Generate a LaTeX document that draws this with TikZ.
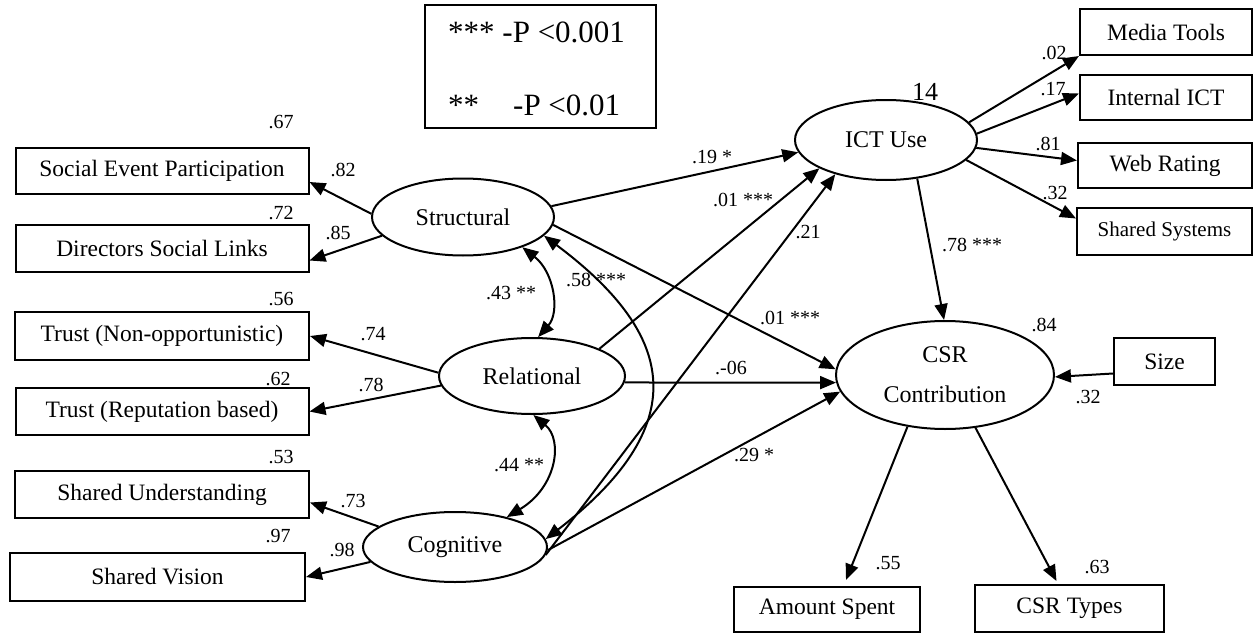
\documentclass[tikz,border=0pt]{standalone}
\usepackage{fontspec}
\setmainfont{Liberation Serif}
\usetikzlibrary{shapes.geometric,arrows.meta,calc}
\begin{document}
\begin{tikzpicture}[x=1pt,y=-1pt,
  box/.style={draw,line width=2pt,rectangle,inner sep=0pt,font=\fontsize{23.5}{28}\selectfont},
  lat/.style={draw,line width=2pt,ellipse,inner sep=0pt,font=\fontsize{24}{28}\selectfont},
  lab/.style={inner sep=0pt,font=\fontsize{20}{24}\selectfont},
  arr/.style={line width=2pt,-{Triangle[length=16pt,width=13pt]}},
  cov/.style={line width=2pt,{Triangle[length=16pt,width=13pt]}-{Triangle[length=16pt,width=13pt]}},
  legtext/.style={anchor=base west,inner sep=0pt,font=\fontsize{31}{36}\selectfont}
]
\useasboundingbox (0,0) rectangle (1256,634);

% left indicator boxes
\node[box,minimum width=293pt,minimum height=46pt] (sep) at (162,171) {Social Event Participation};
\node[box,minimum width=293pt,minimum height=47pt] (dsl) at (162,248.5) {Directors Social Links};
\node[box,minimum width=294pt,minimum height=48pt] (tno) at (162,336) {Trust (Non-opportunistic)};
\node[box,minimum width=293pt,minimum height=47pt] (trb) at (162,411.5) {Trust (Reputation based)};
\node[box,minimum width=294pt,minimum height=47pt] (su) at (162,494.5) {Shared Understanding};
\node[box,minimum width=295pt,minimum height=48pt] (sv) at (157.5,577) {Shared Vision};

% latent variables
\node[lat,minimum width=182pt,minimum height=77pt] (struct) at (463,217) {Structural};
\node[lat,minimum width=186pt,minimum height=76pt] (rel) at (532,376) {Relational};
\node[lat,minimum width=184pt,minimum height=70pt] (cog) at (455,547) {Cognitive};
\node[lat,minimum width=182pt,minimum height=80pt] (ict) at (886,140) {ICT Use};
\node[lat,minimum width=218pt,minimum height=108pt,align=center,font=\fontsize{24}{40}\selectfont] (csr) at (945,375) {CSR\\Contribution};

% right boxes
\node[box,minimum width=172pt,minimum height=46pt] (media) at (1166,32) {Media Tools};
\node[box,minimum width=172pt,minimum height=45pt] (iict) at (1166,97.5) {Internal ICT};
\node[box,minimum width=174pt,minimum height=45pt] (web) at (1165,165.5) {Web Rating};
\node[box,minimum width=175pt,minimum height=47pt,font=\fontsize{21}{25}\selectfont] (ss) at (1164.5,231.5) {Shared Systems};
\node[box,minimum width=101pt,minimum height=47pt] (size) at (1164.5,361.5) {Size};
\node[box,minimum width=186pt,minimum height=45pt] (amt) at (827,609.5) {Amount Spent};
\node[box,minimum width=189pt,minimum height=47pt] (types) at (1069.5,608.5) {CSR Types};

% legend
\node[draw,line width=1.2pt,minimum width=231pt,minimum height=123pt,inner sep=0pt] (legend) at (540.5,66.5) {};
\node[legtext] (leg1) at (448,43) {*** -P <0.001};
\node[legtext] (leg2) at (448,115) {**\hspace{34pt}-P <0.01};

% measurement arrows (left)
\draw[arr] (struct.178) -- ($(sep.east)+(0,11)$);
\draw[arr] (struct.193) -- ($(dsl.east)+(0,12)$);
\draw[arr] (rel.178) -- (tno.east);
\draw[arr] (rel.186) -- (trb.east);
\draw[arr] (cog.165) -- ($(su.east)+(0,8)$);
\draw[arr] (cog.190) -- (sv.east);

% structural paths
\draw[arr] (struct.7) -- (ict.188);
\draw[arr] (rel.22) -- (ict.203);
\draw[arr] (cog.-5) -- (ict.214);
\draw[arr] (struct.-5) -- (csr.177);
\draw[arr] (rel.-4) -- (csr.184);
\draw[arr] (cog.-2) -- (csr.189);
\draw[arr] (ict.-51) -- (csr.91);

% ICT indicators
\draw[arr] (ict.12) -- (media.south west);
\draw[arr] (ict.4) -- ($(iict.west)+(0,-4)$);
\draw[arr] (ict.-5) -- ($(web.west)+(0,-5)$);
\draw[arr] (ict.-14) -- ($(ss.west)+(0,-13)$);

% CSR
\draw[arr] ($(size.west)+(0,12)$) -- (csr.-1);
\draw[arr] (csr.234) -- ($(amt.north)+(19,-6)$);
\draw[arr] (csr.-60) -- ($(types.north)+(-13,-3)$);

% covariances
\draw[cov] (struct.-27) .. controls +(32,25) and +(22,-25) .. (rel.81);
\draw[cov] (rel.-88) .. controls +(30,25) and +(50,-30) .. (cog.30);
\draw[cov] (struct.-13) .. controls (670,330) and (700,420) .. (cog.5);

% labels
\node[lab] (l67) at (281,122) {.67};
\node[lab] (l72) at (281,213) {.72};
\node[lab] (l56) at (281,299) {.56};
\node[lab] (l62) at (278,379) {.62};
\node[lab] (l53) at (281,457) {.53};
\node[lab] (l97) at (278,536) {.97};
\node[lab] (l82) at (343,170) {.82};
\node[lab] (l85) at (338,233) {.85};
\node[lab] (l74) at (373,334) {.74};
\node[lab] (l78) at (371,385) {.78};
\node[lab] (l73) at (353,501) {.73};
\node[lab] (l98) at (342,550) {.98};
\node[lab] (l43) at (511,293) {.43 **};
\node[lab] (l44) at (519,465) {.44 **};
\node[lab] (l58) at (596,280) {.58 ***};
\node[lab] (l19) at (712,157) {.19 *};
\node[lab] (l01a) at (743,200) {.01 ***};
\node[lab] (l21) at (808,232) {.21};
\node[lab] (l01b) at (790,318) {.01 ***};
\node[lab] (l06) at (731,368) {.-06};
\node[lab] (l29) at (754,455) {.29 *};
\node[lab] (l78b) at (972,245) {.78 ***};
\node[lab] (l84) at (1044,325) {.84};
\node[lab] (l32b) at (1088,397) {.32};
\node[lab] (l55) at (888,563) {.55};
\node[lab] (l63) at (1097,567) {.63};
\node[lab] (l02) at (1054,53) {.02};
\node[lab] (l17) at (1053,89) {.17};
\node[lab] (l81) at (1048,144) {.81};
\node[lab] (l32) at (1055,193) {.32};
\node[inner sep=0pt,font=\fontsize{26}{30}\selectfont] (l14) at (925,92) {14};
\end{tikzpicture}
\end{document}
